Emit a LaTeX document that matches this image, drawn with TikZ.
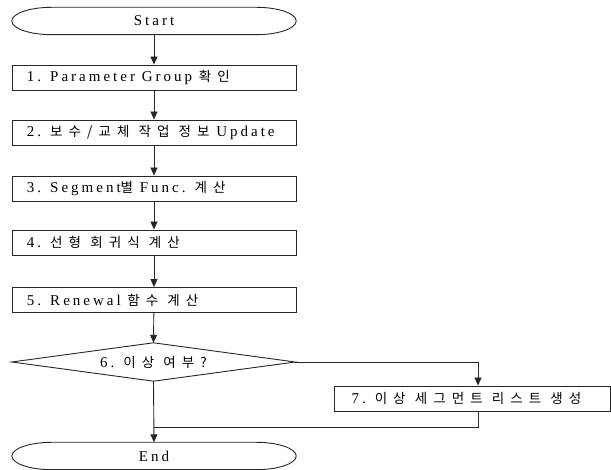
\documentclass[tikz,border=0pt]{standalone}
\usepackage{fontspec}
\setmainfont{Liberation Serif}[LetterSpace=20]
\newfontfamily\krfont{Noto Sans CJK KR}[LetterSpace=45]
\newcommand\ko[1]{{\krfont\fontsize{13.5pt}{15pt}\selectfont #1}}
\newcommand\lft[2]{\makebox[#1][l]{#2}}
\usetikzlibrary{arrows.meta}
\tikzset{
  line/.style={draw=black!85, line width=0.9pt},
  flowarrow/.style={line, -{Triangle[width=7pt,length=8pt]}},
  procbox/.style={line, rectangle, minimum height=25pt, inner ysep=0pt,
    inner xsep=15pt, font=\fontsize{15pt}{17pt}\selectfont},
  termbox/.style={rectangle, minimum width=284pt, minimum height=27pt, inner sep=0pt,
    font=\fontsize{15pt}{17pt}\selectfont},
  decbox/.style={rectangle, minimum width=283pt, minimum height=38pt, inner sep=0pt,
    font=\fontsize{15pt}{17pt}\selectfont},
}
\newcommand\termoutline[1]{%
  \draw[line] ([xshift=40pt]#1.north west) -- ([xshift=-40pt]#1.north east)
    .. controls ([xshift=-18pt]#1.north east) and ([yshift=7.5pt]#1.east) .. (#1.east)
    .. controls ([yshift=-7.5pt]#1.east) and ([xshift=-18pt]#1.south east) .. ([xshift=-40pt]#1.south east)
    -- ([xshift=40pt]#1.south west)
    .. controls ([xshift=18pt]#1.south west) and ([yshift=-7.5pt]#1.west) .. (#1.west)
    .. controls ([yshift=7.5pt]#1.west) and ([xshift=18pt]#1.north west) .. ([xshift=40pt]#1.north west) -- cycle;}
\begin{document}
\begin{tikzpicture}[x=1pt,y=1pt]
\useasboundingbox (0,0) rectangle (611,470);
\node[termbox] (s) at (154,449) {Start};
\termoutline{s}
\node[procbox] (b1) at (154,392.5) {\lft{254pt}{1. Parameter Group \ko{확인}}};
\node[procbox] (b2) at (154,337.5) {\lft{254pt}{2. \ko{보수/교체 작업 정보} Update}};
\node[procbox] (b3) at (154,281.5) {\lft{254pt}{3. Segment\ko{별} Func. \ko{계산}}};
\node[procbox] (b4) at (154,227.5) {\lft{254pt}{4. \ko{선형 회귀식 계산}}};
\node[procbox] (b5) at (154,170) {\lft{254pt}{5. Renewal \ko{함수 계산}}};
\node[decbox] (d) at (153.5,108) {6. \ko{이상 여부?}};
\draw[line] (d.west) -- (d.north) -- (d.east) -- (d.south) -- cycle;
\node[procbox, inner xsep=17pt] (b7) at (472.5,71.5) {\lft{242pt}{7. \ko{이상 세그먼트 리스트 생성}}};
\node[termbox] (e) at (154,14) {End};
\termoutline{e}
\coordinate (j) at (154,43);
\draw[flowarrow] (s) -- (b1);
\draw[flowarrow] (b1) -- (b2);
\draw[flowarrow] (b2) -- (b3);
\draw[flowarrow] (b3) -- (b4);
\draw[flowarrow] (b4) -- (b5);
\draw[flowarrow] (b5) -- (d.north);
\draw[flowarrow] (d.east) -| ([xshift=5.5pt]b7.north);
\draw[flowarrow] (d.south) -- (e.north);
\draw[line] ([xshift=5.5pt]b7.south) |- (j);
\end{tikzpicture}
\end{document}
